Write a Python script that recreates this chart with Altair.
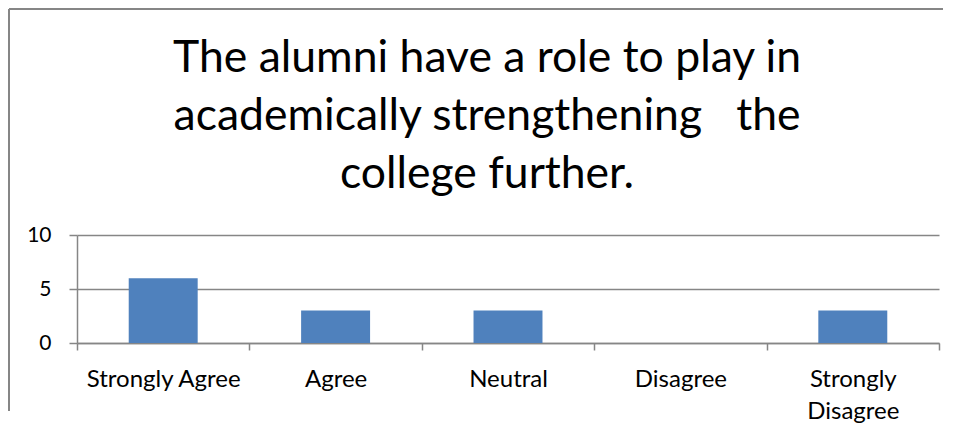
import altair as alt
import pandas as pd

categories = ["Strongly Agree", "Agree", "Neutral", "Disagree", "Strongly Disagree"]
counts = [6, 3, 3, 0, 3]
title_lines = ["The alumni have a role to play in", "academically strengthening \u00a0 the", "college further."]
y_ticks = [0, 5, 10]

df = pd.DataFrame({"category": categories, "count": counts})

GRAY = "#868686"
FONT = "Lato"

one = alt.Data(values=[{"f": 1}])
frame_top = alt.Chart(one).mark_rule(color=GRAY, strokeWidth=2).encode(
    x=alt.value(-68), x2=alt.value(866), y=alt.value(-226), y2=alt.value(-226)
)
frame_left = alt.Chart(one).mark_rule(color=GRAY, strokeWidth=2).encode(
    x=alt.value(-68), x2=alt.value(-68), y=alt.value(-226), y2=alt.value(176)
)
title = alt.Chart(alt.Data(values=[{"t": title_lines}])).mark_text(
    font=FONT, fontSize=44.5, color="black", lineHeight=58, align="center", baseline="alphabetic"
).encode(
    text="t:N", x=alt.value(410), y=alt.value(-163)
)

bars = alt.Chart(df).mark_bar(color="#4F81BD", width=alt.RelativeBandSize(0.4)).encode(
    x=alt.X(
        "category:N",
        sort=categories,
        scale=alt.Scale(paddingInner=0, paddingOuter=0),
        axis=alt.Axis(
            title=None,
            labelAngle=0,
            tickBand="extent",
            tickSize=7,
            tickColor=GRAY,
            tickWidth=1.5,
            domainColor=GRAY,
            domainWidth=1.5,
            labelPadding=17,
            labelFontSize=24,
            labelFont=FONT,
            labelColor="black",
            labelLineHeight=32,
            labelExpr="datum.label == 'Strongly Disagree' ? ['Strongly', 'Disagree'] : datum.label",
        ),
    ),
    y=alt.Y(
        "count:Q",
        scale=alt.Scale(domain=[0, 10]),
        axis=alt.Axis(
            title=None,
            values=y_ticks,
            tickSize=8,
            tickColor=GRAY,
            tickWidth=1.5,
            domainColor=GRAY,
            domainWidth=1.5,
            gridColor=GRAY,
            gridWidth=1.5,
            labelPadding=18,
            labelFontSize=21,
            labelFont=FONT,
            labelColor="black",
        ),
    ),
)

chart = alt.layer(frame_top, frame_left, title, bars).properties(
    width=862,
    height=108,
    padding=0,
).configure_view(stroke=None)

chart.save("out.html", embed_options={"renderer": "svg", "actions": False})
